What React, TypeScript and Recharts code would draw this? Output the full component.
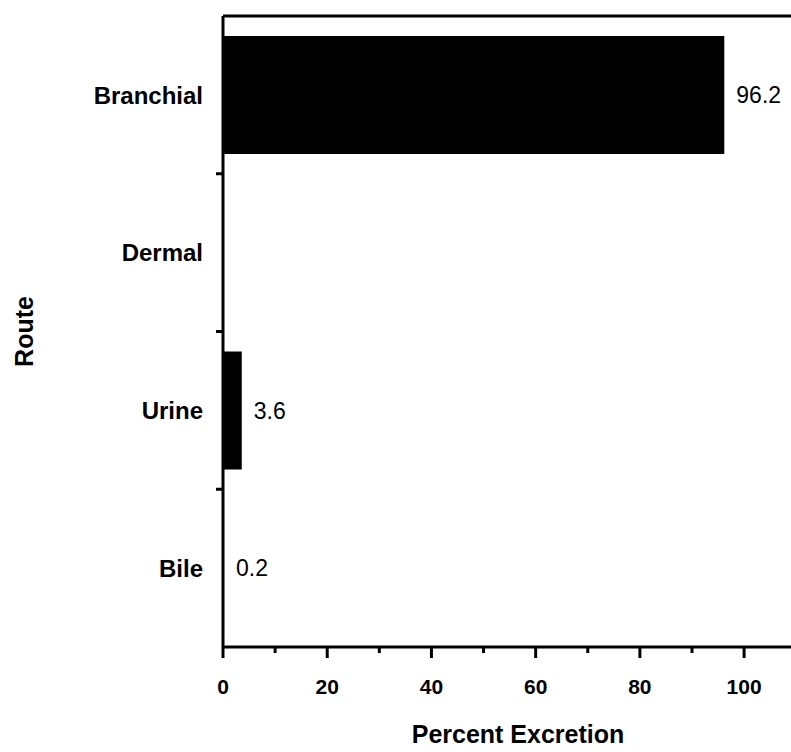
import React from 'react';
import { BarChart, Bar, XAxis, YAxis, LabelList } from 'recharts';

const routes = ['Branchial', 'Dermal', 'Urine', 'Bile'];
const percentExcretion = [96.2, 0, 3.6, 0.2];
const xTicks = [0, 10, 20, 30, 40, 50, 60, 70, 80, 90, 100];
const xLabelTicks = [0, 20, 40, 60, 80, 100];

const data = routes.map((name, i) => ({ name, value: percentExcretion[i] }));

const W = 791;
const H = 752;
const MARGIN = { top: 14, right: 0, left: 0, bottom: 0 };
const TOP_AXIS_H = 2;
const Y_AXIS_W = 223;
const X_AXIS_H = 105;
const FONT = '"Liberation Sans", Arial, Helvetica, sans-serif';
const BAND = (H - MARGIN.top - TOP_AXIS_H - MARGIN.bottom - X_AXIS_H) / routes.length;

const XTick = (props: any) => {
    const { x, y, payload } = props;
    const major = xLabelTicks.includes(payload.value);
    return (
        <g>
            <line x1={x} x2={x} y1={y} y2={y + (major ? 11 : 6)} stroke="#000" strokeWidth={3} />
            {major && (
                <text x={x} y={y + 32} dy="0.71em" textAnchor="middle" fontSize={21} fontWeight="bold" fontFamily={FONT} fill="#000">
                    {payload.value}
                </text>
            )}
        </g>
    );
};

const YTick = (props: any) => {
    const { x, y, payload, index } = props;
    return (
        <g>
            <text x={x - 20} y={y} dy="0.36em" textAnchor="end" fontSize={24} fontWeight="bold" fontFamily={FONT} fill="#000">
                {payload.value}
            </text>
            {index < routes.length - 1 && (
                <line x1={x} x2={x - 7} y1={y + BAND / 2} y2={y + BAND / 2} stroke="#000" strokeWidth={3} />
            )}
        </g>
    );
};

export default function App() {
    return (
        <div style={{ position: 'absolute', left: 0, top: 0, background: '#fff' }}>
            <BarChart width={W} height={H} data={data} layout="vertical" margin={MARGIN}>
                <XAxis
                    type="number"
                    domain={[0, 109]}
                    ticks={xTicks}
                    interval={0}
                    height={X_AXIS_H}
                    tickSize={0}
                    tickMargin={0}
                    tickLine={false}
                    tick={<XTick />}
                    axisLine={{ stroke: '#000', strokeWidth: 3 }}
                    label={{
                        content: (p: any) => {
                            const vb = p.viewBox;
                            return (
                                <text x={vb.x + vb.width / 2 + 11} y={743} textAnchor="middle" fontSize={25} fontWeight="bold" fontFamily={FONT} fill="#000">
                                    Percent Excretion
                                </text>
                            );
                        },
                    }}
                />
                {/* top border of the frame */}
                <XAxis
                    xAxisId="top"
                    orientation="top"
                    type="number"
                    domain={[0, 109]}
                    height={TOP_AXIS_H}
                    tick={false}
                    tickLine={false}
                    axisLine={{ stroke: '#000', strokeWidth: 3 }}
                />
                <YAxis
                    type="category"
                    dataKey="name"
                    width={Y_AXIS_W}
                    tickSize={0}
                    tickMargin={0}
                    tickLine={false}
                    tick={<YTick />}
                    interval={0}
                    axisLine={{ stroke: '#000', strokeWidth: 3 }}
                    label={{
                        content: (p: any) => {
                            const vb = p.viewBox;
                            const cy = vb.y + vb.height / 2;
                            return (
                                <text x={33} y={cy} transform={`rotate(-90, 33, ${cy})`} textAnchor="middle" fontSize={25} fontWeight="bold" fontFamily={FONT} fill="#000">
                                    Route
                                </text>
                            );
                        },
                    }}
                />
                <Bar dataKey="value" fill="#000" barSize={118} isAnimationActive={false}>
                    <LabelList
                        dataKey="value"
                        position="right"
                        offset={12}
                        formatter={(v: any) => (v ? v : '')}
                        style={{ fontSize: 23, fontFamily: FONT, fill: '#000' }}
                    />
                </Bar>
            </BarChart>
        </div>
    );
}
